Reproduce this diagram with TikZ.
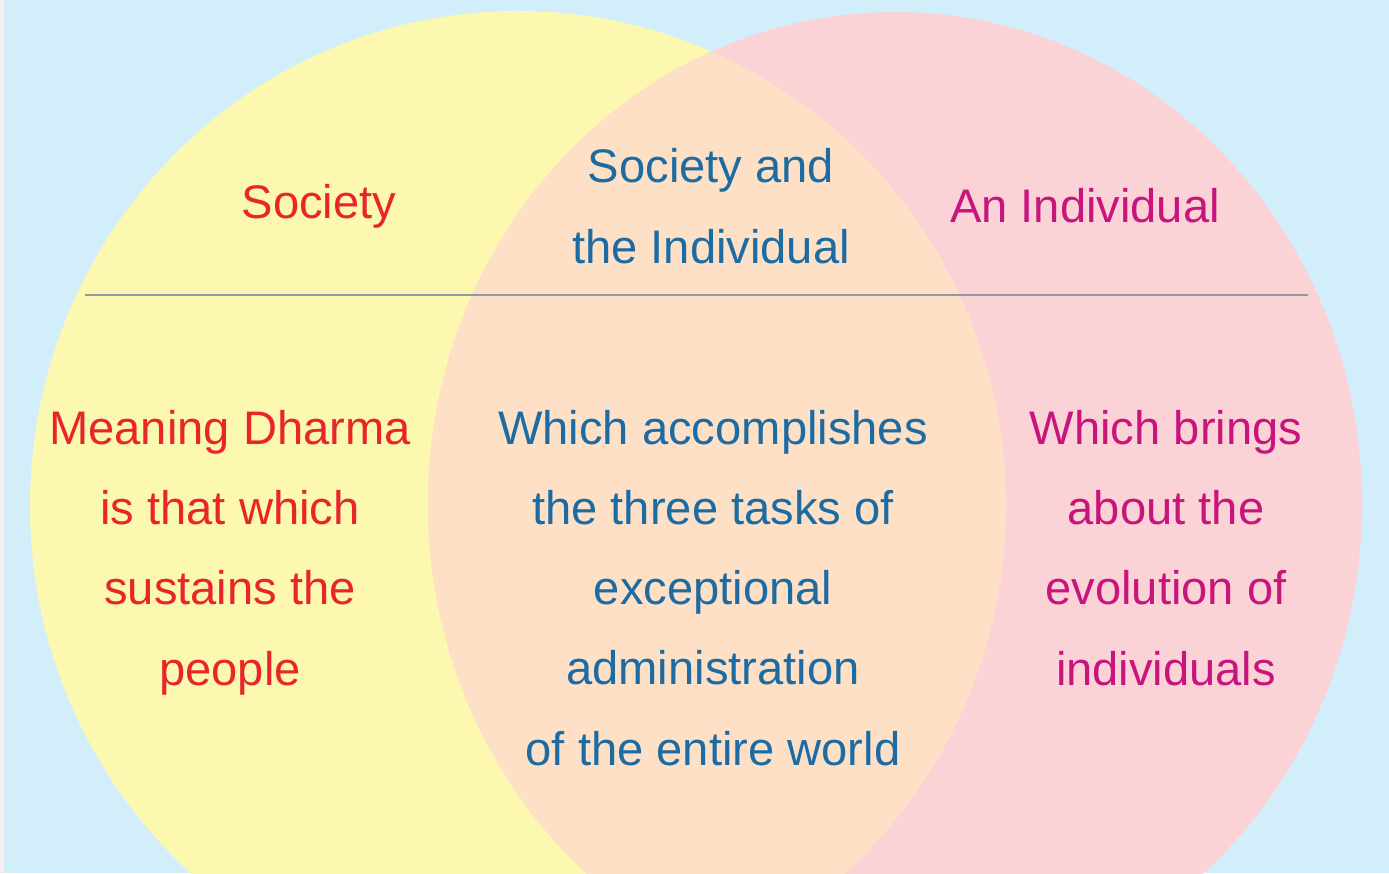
\documentclass[tikz,border=0pt]{standalone}
\usepackage{fontspec}
\setmainfont{Liberation Sans}
\usetikzlibrary{calc,positioning}

\definecolor{skyblue}{HTML}{D3EEFB}
\definecolor{edgewhite}{HTML}{F7EEF2}
\definecolor{socfill}{HTML}{FDF8B0}
\definecolor{indfill}{HTML}{FBD3D6}
\definecolor{bothfill}{HTML}{FDE0C6}
\definecolor{socred}{HTML}{E8252B}
\definecolor{bothblue}{HTML}{1D6BA3}
\definecolor{indpink}{HTML}{C8157E}
\definecolor{rulegrey}{HTML}{8C9AA2}

\begin{document}
\begin{tikzpicture}[x=0.01cm, y=-0.01cm,
  lbl/.style={align=center, anchor=base, inner sep=0pt,
    font=\fontsize{13.4}{22.76}\selectfont}]
\clip (0,0) rectangle (1389,873);
\fill[skyblue] (0,0) rectangle (1389,873);
\fill[edgewhite] (0,0) rectangle (4,873);
% the two sets
\fill[socfill] (518,506) ellipse [x radius=488, y radius=495];
\fill[indfill] (895,504) ellipse [x radius=467, y radius=492];
\begin{scope}
\clip (518,506) ellipse [x radius=488, y radius=495];
\fill[bothfill] (895,504) ellipse [x radius=467, y radius=492];
\end{scope}
% dividing rule
\coordinate (ruleL) at (85,295);
\coordinate (ruleR) at (1308,295);
\draw[rulegrey, line width=0.85pt] (ruleL) -- (ruleR);
% headings (base = last baseline)
\node[lbl, text=socred] (soc) at (319,218) {Society};
\node[lbl, text=bothblue] (both) at (711,263) {Society and\\the Individual};
\node[lbl, text=indpink] (ind) at (1085,222) {An Individual};
% meanings
\node[lbl, text=socred] (socdef) at (230,685) {Meaning Dharma\\is that which\\sustains the\\people};
\node[lbl, text=bothblue] (bothdef) at (713,765) {Which accomplishes\\the three tasks of\\exceptional\\administration\\of the entire world};
\node[lbl, text=indpink] (inddef) at (1166,685) {Which brings\\about the\\evolution of\\individuals};
\end{tikzpicture}
\end{document}
